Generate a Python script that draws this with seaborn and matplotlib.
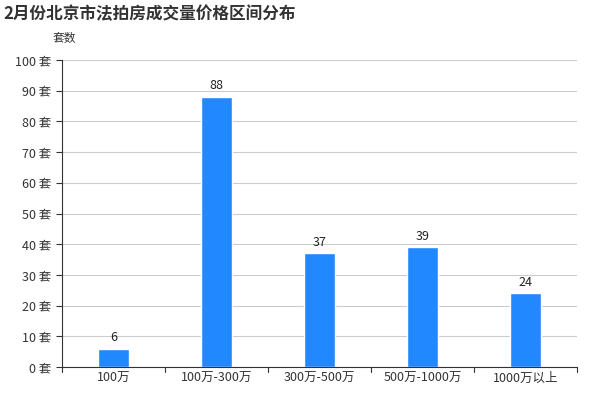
import matplotlib
matplotlib.use("Agg")
import matplotlib.pyplot as plt
import seaborn as sns
import pandas as pd

categories = ["100万", "100万-300万", "300万-500万", "500万-1000万", "1000万以上"]
values = [6, 88, 37, 39, 24]
yticks = [0, 10, 20, 30, 40, 50, 60, 70, 80, 90, 100]

sns.set_style("white")
plt.rcParams['font.family'] = ['Noto Sans CJK SC', 'DejaVu Sans']

df = pd.DataFrame({"cat": categories, "val": values})
fig = plt.figure(figsize=(6, 4), dpi=100)
ax = fig.add_axes([0.103, 0.0825, 0.859, 0.7675])
sns.barplot(data=df, x="cat", y="val", color="#2288ff", saturation=1, width=0.3, ax=ax)
ax.set_ylim(0, 100)
ax.set_yticks(yticks)
ax.set_yticklabels([f"{v} 套" for v in yticks], fontsize=9, color="#333333")
ax.tick_params(axis="x", labelsize=9, colors="#333333", length=0)
ax.tick_params(axis="y", length=4, color="#333333", left=True)
ax.yaxis.grid(True, color="#cccccc", linewidth=0.8)
ax.set_axisbelow(True)
ax.set_xlabel("")
ax.set_ylabel("")
for s in ["top", "right"]:
    ax.spines[s].set_visible(False)
ax.spines["left"].set_color("#333333")
ax.spines["bottom"].set_color("#333333")
ax.set_xlim(-0.5, 4.5)
for i in range(6):
    ax.plot([i - 0.5, i - 0.5], [0, -1.5], color="#333333", lw=0.8, clip_on=False)
for i, v in enumerate(values):
    ax.text(i, v + 1.5, str(v), ha="center", va="bottom", fontsize=9, color="#222222")
fig.text(0.005, 0.965, "2月份北京市法拍房成交量价格区间分布", fontsize=12, fontweight="bold", ha="left", va="center", color="#333333")
fig.text(0.087, 0.905, "套数", fontsize=8.5, ha="left", va="center", color="#333333")
fig.savefig("out.png", dpi=100)
